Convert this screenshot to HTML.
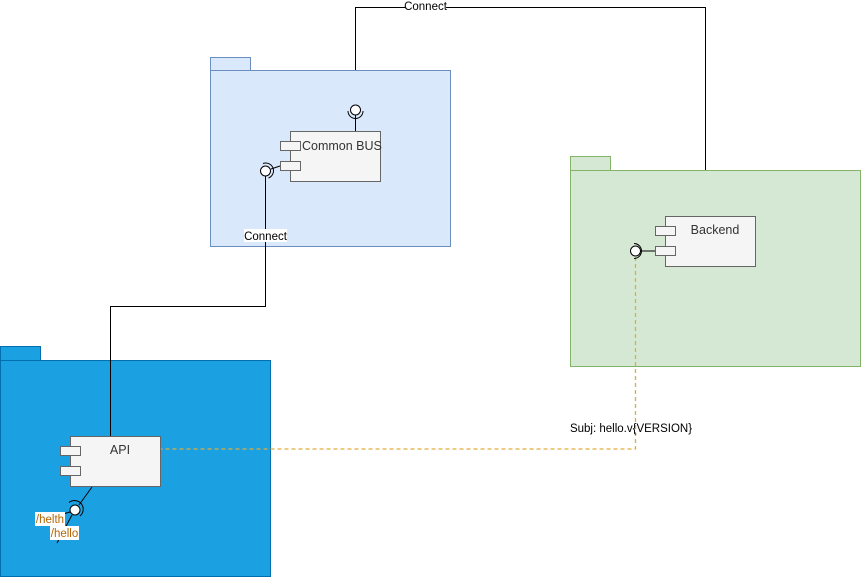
<!DOCTYPE html>
<html><head><meta charset="utf-8"><style>
html,body{margin:0;padding:0;background:#fff;}
svg{display:block;font-family:"Liberation Sans",Helvetica,Arial,sans-serif;}
</style></head><body>
<svg width="861" height="577" viewBox="0 0 861 577" xmlns="http://www.w3.org/2000/svg">
<rect x="210.5" y="57.5" width="40" height="13" fill="#dae8fc" stroke="#6c8ebf"/>
<rect x="210.5" y="70.5" width="240" height="176" fill="#dae8fc" stroke="#6c8ebf"/>
<rect x="570.5" y="156.5" width="40" height="14" fill="#d5e8d4" stroke="#82b366"/>
<rect x="570.5" y="170.5" width="290" height="196" fill="#d5e8d4" stroke="#82b366"/>
<rect x="0.5" y="346.5" width="40" height="14" fill="#1ba1e2" stroke="#006eaf"/>
<rect x="0.5" y="360.5" width="270" height="216" fill="#1ba1e2" stroke="#006eaf"/>

<polyline points="355.5,70 355.5,7.5 705.5,7.5 705.5,170" fill="none" stroke="#000"/>
<rect x="405" y="0" width="41" height="13" fill="#fff"/>
<text x="425.5" y="10" font-size="11.5" text-anchor="middle" fill="#000">Connect</text>

<polyline points="265.5,176 265.5,306.5 110.5,306.5 110.5,436" fill="none" stroke="#000"/>
<rect x="244" y="229" width="43" height="13" fill="#fff"/>
<text x="265.5" y="240" font-size="11.5" text-anchor="middle" fill="#000">Connect</text>

<polyline points="635.5,257 635.5,449 160,449" fill="none" stroke="#e0ad3a" stroke-width="1.3" stroke-dasharray="4 3"/>
<text x="631" y="432" font-size="11.5" text-anchor="middle" fill="#000">Subj: hello.v{VERSION}</text>

<!-- Common BUS -->
<rect x="290.5" y="131.5" width="90" height="50" fill="#f5f5f5" stroke="#666"/>
<rect x="280.5" y="141.5" width="20" height="9" fill="#f5f5f5" stroke="#666"/>
<rect x="280.5" y="161.5" width="20" height="9" fill="#f5f5f5" stroke="#666"/>
<text x="302" y="150" font-size="12.5" fill="#333">Common BUS</text>
<line x1="355.5" y1="115" x2="355.5" y2="131" stroke="#000"/>
<path d="M348,111 A7.5,7.5 0 0 0 363,111" fill="none" stroke="#000"/>
<circle cx="355.5" cy="110" r="5" fill="#fff" stroke="#000"/>
<line x1="271" y1="169" x2="280" y2="166" stroke="#000"/>
<path d="M263,163.5 A7.5,7.5 0 0 1 268.5,178" fill="none" stroke="#000"/>
<circle cx="265.5" cy="171" r="5" fill="#fff" stroke="#000"/>

<!-- Backend -->
<rect x="665.5" y="216.5" width="90" height="50" fill="#f5f5f5" stroke="#666"/>
<rect x="655.5" y="226.5" width="20" height="9" fill="#f5f5f5" stroke="#666"/>
<rect x="655.5" y="246.5" width="20" height="9" fill="#f5f5f5" stroke="#666"/>
<text x="715" y="234" font-size="12.5" text-anchor="middle" fill="#333">Backend</text>
<line x1="641" y1="251" x2="655" y2="251" stroke="#000"/>
<path d="M634,243.5 A7.5,7.5 0 0 1 634,258.5" fill="none" stroke="#000"/>
<circle cx="635.5" cy="251" r="5" fill="#fff" stroke="#000"/>

<!-- API -->
<rect x="70.5" y="436.5" width="90" height="50" fill="#f5f5f5" stroke="#666"/>
<rect x="60.5" y="446.5" width="20" height="9" fill="#f5f5f5" stroke="#666"/>
<rect x="60.5" y="466.5" width="20" height="9" fill="#f5f5f5" stroke="#666"/>
<text x="120" y="454" font-size="12.5" text-anchor="middle" fill="#333">API</text>
<line x1="92" y1="487" x2="79" y2="505" stroke="#000"/>
<line x1="72" y1="515" x2="57" y2="543" stroke="#000"/>
<line x1="63" y1="514" x2="70" y2="512" stroke="#000"/>
<path d="M69,502.5 A8,8 0 0 1 80,516" fill="none" stroke="#000"/>
<circle cx="75" cy="510" r="5" fill="#fff" stroke="#000"/>
<rect x="35" y="512" width="30" height="14" fill="#fff"/>
<text x="50" y="523" font-size="11.5" text-anchor="middle" fill="#b46504">/helth</text>
<rect x="50" y="526" width="29" height="14" fill="#fff"/>
<text x="64.5" y="537" font-size="11.5" text-anchor="middle" fill="#b46504">/hello</text>
</svg>
</body></html>
